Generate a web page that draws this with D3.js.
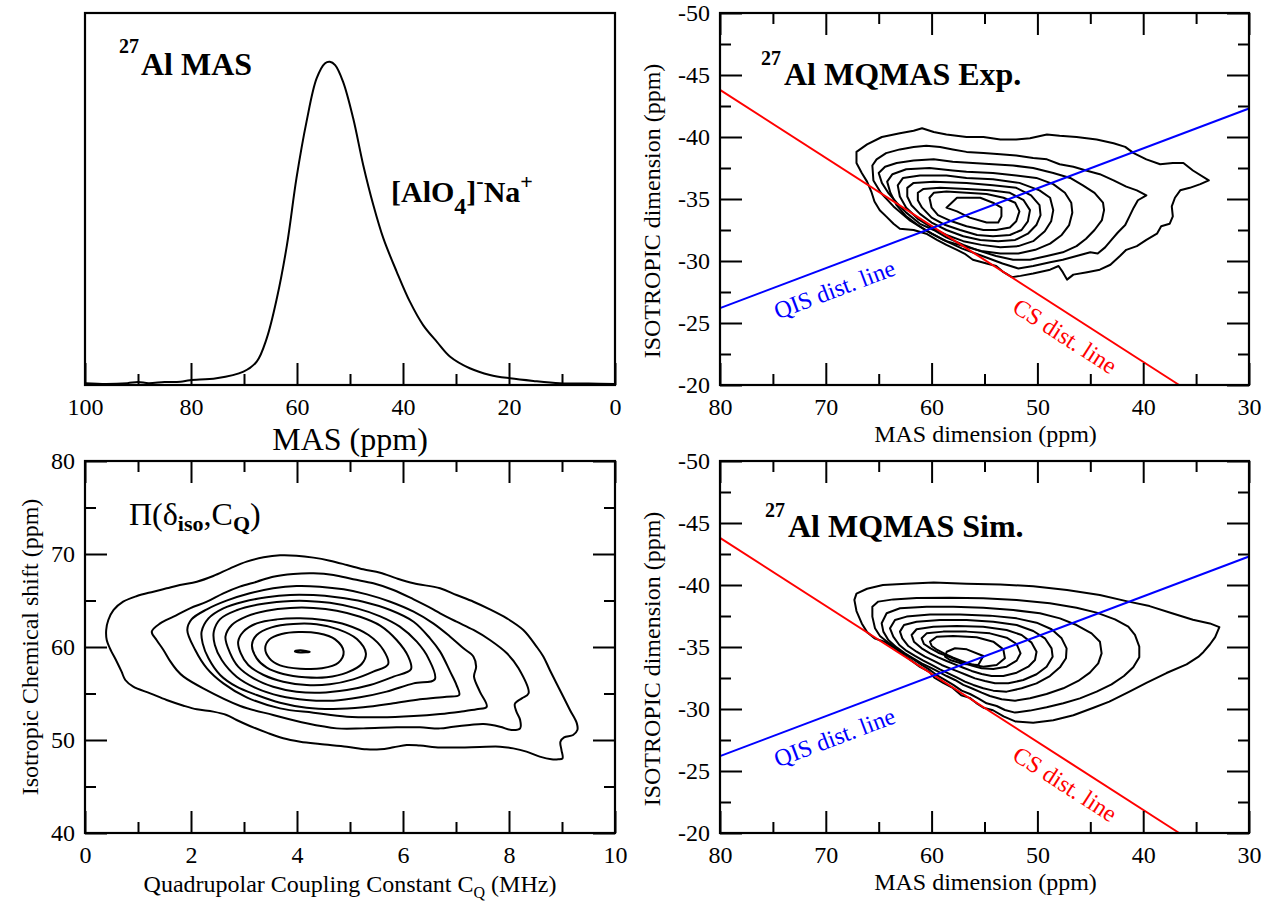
<!DOCTYPE html>
<html>
<head>
<meta charset="utf-8">
<script src="https://cdn.jsdelivr.net/npm/d3@7/dist/d3.min.js"></script>
<style>
body{margin:0;background:#fff;}
svg, svg text{font-family:"Liberation Serif","Times New Roman",Times,serif;}
</style>
</head>
<body>
<svg id="chart" width="1269" height="904" font-family="Liberation Serif, Times New Roman, serif"></svg>
<script>
// ---------- Panel 1: 27Al MAS spectrum ----------
const masPpm = [100,96,92,90,88,85,82,80.2,75.2,70.1,67.6,65.7,63.8,61.9,60.1,58.2,56.3,54.7,53.8,52.8,51.3,49.4,47.5,45.6,43.7,41.2,38.7,36.2,33.6,31.1,27.4,23.6,19.8,15.4,10.4,5,0];
const masIntensity = [0.005,0.003,0.005,0.008,0.005,0.008,0.009,0.013,0.018,0.036,0.063,0.126,0.233,0.376,0.556,0.708,0.824,0.865,0.869,0.860,0.815,0.717,0.591,0.484,0.394,0.305,0.224,0.161,0.116,0.076,0.045,0.027,0.018,0.011,0.005,0.004,0.003];
const p1MajorTicks = [100,80,60,40,20,0];
const p1MinorTicks = [90,70,50,30,10];

// ---------- MQMAS axes ----------
const mqXMajor = [80,70,60,50,40,30];
const mqXMinor = [75,65,55,45,35];
const mqYMajor = [-50,-45,-40,-35,-30,-25,-20];
const mqYMinor = [-47.5,-42.5,-37.5,-32.5,-27.5,-22.5];
const csLine = [[80,-43.8],[36.6,-20]];
const qisLine = [[80,-26.2],[30,-42.3]];
const qisLabelPos = [68.9,-27.1];
const csLabelPos = [47.8,-23.4];

// ---------- Panel 2: experimental MQMAS contours [MAS ppm, ISO ppm] ----------
const expC1 = [[67.1,-38.8],[66.1,-39.4],[64.7,-40.0],[63.0,-40.3],[61.7,-40.5],[60.9,-40.7],[59.8,-40.4],[58.6,-40.2],[56.7,-40.0],[55.1,-40.0],[53.5,-39.8],[52.0,-39.8],[50.7,-39.9],[49.1,-40.2],[47.9,-40.1],[46.3,-40.0],[44.4,-39.8],[42.8,-39.5],[41.7,-39.2],[40.9,-38.7],[39.7,-38.2],[38.4,-37.8],[37.2,-37.9],[36.2,-37.9],[35.3,-37.3],[33.8,-36.5],[34.6,-36.2],[35.6,-35.9],[36.5,-35.7],[37.0,-35.1],[37.3,-34.4],[37.2,-33.6],[37.5,-33.0],[38.3,-32.8],[38.7,-32.2],[39.7,-31.7],[40.6,-31.2],[41.6,-30.9],[42.2,-30.4],[43.1,-29.7],[44.1,-29.3],[45.3,-29.1],[46.6,-28.9],[47.2,-28.5],[47.6,-29.1],[48.0,-29.6],[48.8,-29.3],[50.4,-29.0],[51.6,-28.8],[52.4,-28.7],[53.2,-29.1],[53.9,-29.6],[54.8,-29.8],[56.1,-30.1],[56.9,-30.6],[57.6,-30.9],[58.6,-31.3],[59.5,-31.7],[60.5,-32.2],[61.7,-32.5],[63.0,-32.6],[63.6,-33.0],[64.3,-33.6],[64.9,-34.1],[65.4,-34.8],[65.7,-35.6],[66.1,-36.4],[66.6,-37.1],[67.1,-37.9]];
const expC2 = [[65.6,-37.7],[65.2,-38.2],[64.3,-38.7],[63.0,-39.0],[61.7,-39.2],[60.5,-39.3],[59.2,-39.2],[58.0,-39.0],[56.7,-38.8],[55.1,-38.7],[53.5,-38.6],[52.0,-38.5],[50.4,-38.3],[49.1,-38.2],[47.9,-37.8],[46.6,-37.6],[45.4,-37.3],[44.1,-37.0],[42.8,-36.5],[41.6,-36.0],[40.6,-35.7],[39.7,-35.3],[40.5,-34.9],[40.9,-34.3],[41.3,-33.6],[41.7,-32.9],[42.4,-32.3],[43.0,-31.7],[43.6,-31.1],[44.3,-30.6],[45.0,-30.7],[46.3,-30.4],[47.6,-30.1],[48.8,-29.9],[50.4,-29.6],[51.8,-29.4],[53.3,-29.8],[55.2,-30.4],[57.1,-31.0],[58.9,-31.7],[60.6,-32.5],[62.1,-33.3],[63.6,-34.4],[64.8,-35.5],[65.5,-36.5]];
const expC3 = [[65.0,-37.1],[64.4,-37.6],[63.3,-37.9],[61.7,-38.1],[59.8,-38.2],[58.0,-38.0],[56.1,-37.9],[54.2,-37.8],[52.3,-37.7],[50.4,-37.5],[48.5,-37.1],[46.9,-36.7],[45.7,-36.1],[44.6,-35.5],[43.8,-34.7],[43.7,-34.1],[43.9,-33.3],[44.6,-32.5],[45.4,-31.8],[46.3,-31.2],[47.6,-30.7],[49.1,-30.4],[50.7,-30.1],[52.3,-30.1],[53.9,-30.4],[55.4,-30.8],[57.0,-31.3],[58.6,-31.9],[59.8,-32.5],[61.1,-33.0],[62.4,-33.9],[63.3,-34.7],[64.1,-35.5],[64.7,-36.3]];
const expC4 = [[64.2,-36.4],[63.7,-37.0],[62.4,-37.4],[60.2,-37.5],[58.0,-37.3],[56.7,-37.2],[54.2,-37.1],[52.0,-36.9],[50.1,-36.7],[48.5,-36.2],[47.4,-35.5],[46.8,-34.7],[46.7,-33.9],[47.0,-32.9],[47.7,-32.1],[48.8,-31.4],[50.2,-30.9],[51.8,-30.6],[53.5,-30.6],[55.3,-30.8],[57.0,-31.2],[58.6,-31.6],[60.0,-32.2],[61.3,-32.9],[62.4,-33.6],[63.3,-34.5],[63.9,-35.5]];
const expC5 = [[63.2,-36.1],[62.7,-36.7],[61.1,-36.9],[58.6,-36.9],[56.7,-36.7],[54.2,-36.6],[51.7,-36.3],[49.8,-35.7],[48.8,-35.1],[48.5,-34.1],[48.7,-33.2],[49.3,-32.4],[50.4,-31.6],[51.8,-31.2],[53.5,-31.1],[55.3,-31.3],[57.0,-31.6],[58.6,-32.1],[60.0,-32.7],[61.3,-33.4],[62.4,-34.3],[63.0,-35.2]];
const expC6 = [[62.3,-35.9],[61.7,-36.3],[59.8,-36.4],[56.7,-36.3],[54.2,-36.1],[52.0,-35.9],[50.6,-35.3],[49.8,-34.5],[49.7,-33.7],[50.1,-32.9],[50.9,-32.2],[52.1,-31.7],[53.7,-31.6],[55.4,-31.7],[57.0,-32.0],[58.6,-32.5],[60.0,-33.1],[61.1,-33.8],[61.9,-34.5],[62.3,-35.2]];
const expC7 = [[61.3,-35.5],[60.8,-35.8],[59.2,-35.9],[56.7,-35.8],[54.5,-35.7],[52.6,-35.5],[51.3,-34.9],[50.7,-34.1],[50.9,-33.2],[51.5,-32.5],[52.6,-32.1],[54.2,-32.0],[55.7,-32.1],[57.3,-32.5],[58.7,-32.9],[60.0,-33.5],[60.9,-34.3],[61.3,-34.9]];
const expC8 = [[60.2,-35.1],[59.8,-35.5],[58.6,-35.6],[56.7,-35.5],[54.8,-35.4],[53.2,-35.1],[52.1,-34.7],[51.7,-34.0],[52.0,-33.2],[52.6,-32.7],[53.9,-32.5],[55.1,-32.5],[56.7,-32.8],[58.1,-33.2],[59.4,-33.7],[60.0,-34.3]];
const expC9 = [[58.6,-34.3],[57.6,-35.1],[55.4,-35.1],[54.2,-34.7],[53.4,-34.3],[53.4,-33.6],[53.7,-33.1],[54.8,-33.1],[56.4,-33.5],[57.6,-34.0]];

// ---------- Panel 4: simulated MQMAS contours ----------
const simC1 = [[67.3,-38.8],[67.1,-39.3],[66.1,-39.7],[64.6,-40.0],[62.4,-40.1],[59.8,-40.2],[56.7,-40.1],[53.5,-40.05],[50.4,-39.9],[47.2,-39.6],[44.1,-39.2],[41.6,-38.7],[39.4,-38.3],[37.2,-37.7],[35.3,-37.2],[33.7,-36.9],[32.8,-36.6],[33.2,-35.8],[33.7,-35.2],[34.3,-34.6],[34.8,-34.2],[35.9,-33.6],[37.8,-32.9],[39.7,-32.1],[41.3,-31.4],[43.2,-30.6],[44.7,-30.1],[46.6,-29.5],[48.5,-29.1],[50.4,-28.9],[52.1,-29.0],[53.2,-29.4],[54.2,-29.9],[55.1,-30.1],[55.8,-30.5],[56.4,-30.9],[57.2,-31.1],[58.0,-31.7],[58.9,-32.1],[59.7,-32.5],[60.2,-33.0],[61.1,-33.4],[61.9,-33.9],[62.7,-34.4],[63.5,-34.9],[64.4,-35.4],[65.4,-35.7],[66.1,-36.2],[66.6,-36.9],[67.1,-37.9]];
const simC2 = [[65.60,-38.25],[65.04,-38.66],[63.62,-38.84],[61.42,-38.95],[58.27,-38.98],[55.12,-38.93],[51.96,-38.79],[48.82,-38.52],[46.30,-38.17],[44.40,-37.77],[42.67,-37.23],[41.41,-36.64],[40.78,-35.97],[40.37,-35.03],[40.37,-34.17],[40.94,-33.36],[41.82,-32.66],[42.99,-31.99],[44.40,-31.40],[45.98,-30.86],[47.55,-30.46],[49.13,-30.14],[50.70,-29.87],[52.12,-29.71],[53.07,-29.92],[53.85,-30.24],[54.80,-30.46],[55.59,-30.86],[56.37,-31.21],[57.16,-31.48],[57.95,-31.94],[58.74,-32.34],[59.52,-32.74],[60.15,-33.15],[60.94,-33.55],[61.73,-34.01],[62.52,-34.44],[63.30,-34.89],[64.09,-35.35],[64.88,-35.89],[65.35,-36.51],[65.60,-37.45]];
const simC3 = [[64.72,-36.91],[64.25,-37.72],[62.99,-38.12],[60.47,-38.25],[57.95,-38.25],[55.12,-38.17],[52.28,-37.98],[49.76,-37.72],[47.87,-37.31],[46.30,-36.77],[44.88,-36.10],[44.09,-35.43],[43.93,-34.49],[44.25,-33.68],[45.04,-32.93],[46.14,-32.26],[47.55,-31.67],[49.13,-31.21],[50.70,-30.86],[52.12,-30.67],[53.38,-30.78],[54.49,-31.05],[55.27,-31.32],[56.22,-31.67],[57.00,-31.94],[57.79,-32.34],[58.58,-32.66],[59.37,-33.01],[60.15,-33.36],[60.94,-33.68],[61.73,-34.09],[62.52,-34.49],[63.30,-34.97],[64.09,-35.57],[64.56,-36.24]];
const simC4 = [[63.93,-36.51],[63.46,-37.18],[62.36,-37.45],[60.15,-37.63],[57.32,-37.63],[54.49,-37.53],[51.96,-37.31],[50.08,-36.96],[48.66,-36.43],[47.71,-35.70],[47.24,-34.89],[47.30,-34.09],[47.87,-33.36],[48.82,-32.66],[50.08,-32.07],[51.49,-31.67],[52.91,-31.40],[54.17,-31.48],[55.12,-31.67],[56.06,-31.94],[56.85,-32.21],[57.63,-32.55],[58.42,-32.88],[59.21,-33.20],[59.99,-33.55],[60.78,-33.90],[61.57,-34.28],[62.36,-34.68],[63.05,-35.16],[63.62,-35.83]];
const simC5 = [[62.99,-36.24],[62.61,-36.77],[61.42,-37.04],[59.21,-37.18],[56.69,-37.18],[54.17,-37.04],[51.96,-36.77],[50.39,-36.29],[49.29,-35.70],[48.66,-34.89],[48.56,-34.22],[49.13,-33.41],[50.08,-32.80],[51.33,-32.34],[52.75,-32.07],[54.01,-32.07],[54.96,-32.26],[55.90,-32.47],[56.69,-32.74],[57.48,-33.01],[58.27,-33.28],[59.05,-33.55],[59.84,-33.90],[60.63,-34.22],[61.42,-34.62],[62.20,-35.08],[62.77,-35.70]];
const simC6 = [[61.89,-35.97],[61.42,-36.43],[59.84,-36.64],[57.63,-36.69],[55.12,-36.64],[52.91,-36.37],[51.49,-35.97],[50.55,-35.35],[50.08,-34.62],[50.23,-33.95],[50.86,-33.41],[51.96,-32.93],[53.22,-32.66],[54.33,-32.66],[55.27,-32.82],[56.22,-33.07],[57.00,-33.33],[57.79,-33.60],[58.58,-33.87],[59.37,-34.17],[60.15,-34.49],[60.94,-34.89],[61.67,-35.43]];
const simC7 = [[60.94,-35.70],[60.47,-36.10],[58.90,-36.24],[56.69,-36.24],[54.49,-36.10],[52.91,-35.75],[51.96,-35.24],[51.59,-34.49],[51.96,-33.90],[52.91,-33.41],[54.17,-33.23],[55.27,-33.28],[56.22,-33.50],[57.00,-33.74],[57.79,-34.01],[58.58,-34.28],[59.37,-34.54],[60.09,-34.89],[60.72,-35.24]];
const simC8 = [[60.15,-35.43],[59.52,-35.83],[57.95,-35.89],[55.75,-35.78],[54.17,-35.43],[53.22,-34.81],[53.07,-34.09],[53.85,-33.55],[55.12,-33.41],[56.22,-33.60],[57.16,-33.87],[57.95,-34.14],[58.74,-34.44],[59.46,-34.76],[59.99,-35.08]];
const simC9 = [[58.73,-34.22],[58.57,-34.62],[57.79,-34.90],[56.68,-34.81],[55.11,-34.27],[55.59,-33.55],[57.00,-33.63],[58.26,-33.95]];

// ---------- Panel 3: Pi(delta_iso, CQ) contours [CQ MHz, iso ppm] ----------
const piXMajor = [0,2,4,6,8,10];
const piXMinor = [1,3,5,7,9];
const piYMajor = [40,50,60,70,80];
const piYMinor = [45,55,65,75];
const piC1 = [[0.40,61.83],[0.44,62.90],[0.54,63.98],[0.72,64.87],[0.98,65.48],[1.29,65.95],[1.54,66.31],[1.79,66.67],[2.11,67.02],[2.42,67.63],[2.74,68.46],[3.05,69.18],[3.37,69.64],[3.68,69.86],[3.99,69.82],[4.31,69.61],[4.62,69.28],[4.94,68.82],[5.25,68.35],[5.57,67.99],[5.88,67.38],[6.20,66.85],[6.70,66.31],[7.01,65.59],[7.33,64.87],[7.64,64.05],[7.96,63.08],[8.27,61.83],[8.52,60.04],[8.65,58.96],[8.77,57.53],[8.96,55.38],[9.15,53.23],[9.28,51.79],[9.29,51.07],[9.21,50.54],[9.04,50.29],[8.97,49.82],[8.99,48.92],[9.01,48.03],[8.93,47.92],[8.80,47.92],[8.58,48.21],[8.33,48.75],[8.08,49.10],[7.83,49.28],[7.45,49.25],[7.08,49.2],[6.70,49.2],[6.32,49.40],[6.07,49.46],[5.82,49.21],[5.57,49.00],[5.31,49.00],[4.94,49.28],[4.43,49.57],[4.06,49.82],[3.74,50.18],[3.43,50.79],[3.11,51.51],[2.86,52.15],[2.67,52.69],[2.42,53.05],[2.11,53.30],[1.86,53.69],[1.54,54.30],[1.23,55.02],[0.91,55.74],[0.76,56.45],[0.69,57.35],[0.60,58.42],[0.47,59.86],[0.41,60.75]];
const piC2 = [[1.26,61.65],[1.42,62.54],[1.67,63.26],[1.98,64.16],[2.30,64.87],[2.61,65.77],[2.92,66.49],[3.24,67.02],[3.55,67.56],[3.93,67.85],[4.31,67.92],[4.69,67.74],[5.06,67.28],[5.44,66.85],[5.82,66.13],[6.20,65.12],[6.57,64.05],[6.70,63.62],[7.01,62.72],[7.33,61.83],[7.64,60.75],[7.96,59.32],[8.18,57.71],[8.37,55.02],[8.24,54.48],[8.11,53.87],[8.14,53.05],[8.21,52.15],[8.21,51.25],[8.05,51.07],[7.83,51.43],[7.52,51.72],[7.26,51.61],[6.95,51.43],[6.70,51.25],[6.32,51.36],[5.88,51.36],[5.25,51.25],[4.75,51.25],[4.18,51.79],[3.55,52.69],[2.93,53.66],[2.23,55.55],[1.86,56.81],[1.73,57.53],[1.60,58.53],[1.48,59.68],[1.35,60.75]];
const piC3 = [[1.93,61.83],[2.01,62.97],[2.30,64.05],[2.67,64.98],[3.11,65.77],[3.55,66.31],[3.99,66.56],[4.43,66.49],[4.88,66.20],[5.32,65.66],[5.76,64.87],[6.20,63.80],[6.57,62.54],[6.89,61.11],[7.14,59.86],[7.33,58.96],[7.38,57.89],[7.34,56.81],[7.45,55.20],[7.58,53.58],[7.39,53.30],[7.08,53.05],[6.70,52.80],[6.20,52.58],[5.57,52.44],[4.94,52.51],[4.31,52.94],[3.68,53.40],[3.05,54.59],[2.61,56.09],[2.30,57.71],[2.08,59.68]];
const piC4 = [[2.20,61.65],[2.33,63.08],[2.61,64.16],[2.99,64.87],[3.43,65.35],[3.87,65.60],[4.31,65.58],[4.75,65.35],[5.25,64.87],[5.76,63.98],[6.20,62.72],[6.51,60.93],[6.70,59.50],[6.89,57.35],[7.01,55.91],[7.06,54.84],[6.82,54.66],[6.32,54.37],[5.82,53.94],[5.25,53.51],[4.69,53.33],[4.18,53.47],[3.68,54.01],[3.24,54.84],[2.86,55.73],[2.55,56.99],[2.33,58.78],[2.22,60.39]];
const piC5 = [[2.43,61.65],[2.55,63.0],[2.86,63.95],[3.30,64.6],[3.74,64.9],[4.18,64.95],[4.62,64.75],[5.13,64.15],[5.57,63.3],[5.94,62.19],[6.26,60.57],[6.48,58.78],[6.60,56.52],[6.20,56.09],[5.69,55.20],[5.19,54.59],[4.69,54.23],[4.18,54.30],[3.68,54.73],[3.24,55.55],[2.86,56.81],[2.58,58.60],[2.45,60.22]];
const piC6 = [[2.65,61.11],[2.77,62.37],[3.05,63.3],[3.43,63.9],[3.87,64.2],[4.31,64.2],[4.75,63.9],[5.19,63.25],[5.57,62.3],[5.88,60.75],[6.10,58.96],[6.15,57.60],[5.82,56.81],[5.38,55.91],[4.94,55.38],[4.43,55.09],[3.99,55.20],[3.55,55.73],[3.18,56.63],[2.89,57.89],[2.74,59.32]];
const piC7 = [[2.89,60.57],[2.99,61.65],[3.24,62.54],[3.62,62.97],[4.06,63.08],[4.50,62.90],[4.94,62.37],[5.35,61.29],[5.63,59.68],[5.72,58.17],[5.44,57.35],[5.06,56.52],[4.62,55.99],[4.18,55.91],[3.74,56.27],[3.37,56.99],[3.08,58.06],[2.94,59.32]];
const piC8 = [[3.15,60.22],[3.24,61.29],[3.52,62.11],[3.93,62.47],[4.37,62.44],[4.78,61.90],[5.13,60.86],[5.30,59.32],[5.22,58.17],[4.94,57.24],[4.56,56.74],[4.15,56.74],[3.74,57.10],[3.43,57.78],[3.24,58.78]];
const piC9 = [[3.40,59.86],[3.48,60.82],[3.71,61.40],[4.03,61.61],[4.40,61.47],[4.72,60.82],[4.88,59.50],[4.78,58.31],[4.47,57.71],[4.06,57.67],[3.68,58.03],[3.48,58.78]];
const piC10 = [[3.96,59.52],[4.06,59.64],[4.24,59.48],[4.06,59.42]];

// ---------- drawing ----------
const FONT = '"Liberation Serif","Times New Roman",Times,serif';
const svg = d3.select("#chart");
svg.append("rect").attr("width",1269).attr("height",904).attr("fill","#fff");

const P1 = {x0:85,x1:615,y0:13,y1:385};
const P2 = {x0:720,x1:1249,y0:13,y1:385};
const P3 = {x0:85,x1:615,y0:461,y1:833};
const P4 = {x0:720,x1:1249,y0:461,y1:833};

function addAxis(gen, vals, size, withLabels, tx, ty, pad) {
  const g = svg.append("g").attr("transform", `translate(${tx},${ty})`)
    .call(gen.tickValues(vals).tickSize(size).tickPadding(pad || 0)
      .tickFormat(withLabels ? (d => String(d)) : (() => "")));
  g.select(".domain").remove();
  g.attr("font-family", null).attr("font-size", null);
  g.selectAll(".tick line").attr("stroke", "#000").attr("stroke-width", 2);
  g.selectAll(".tick text").attr("fill", "#000").style("font-family", FONT).style("font-size", "24px");
  return g;
}
function frame(p) {
  svg.append("rect").attr("x", p.x0).attr("y", p.y0).attr("width", p.x1 - p.x0).attr("height", p.y1 - p.y0)
    .attr("fill", "none").attr("stroke", "#000").attr("stroke-width", 2.2);
}
function fullAxes(p, x, y, xMaj, xMin, yMaj, yMin) {
  addAxis(d3.axisBottom(x), xMaj, -22, true, 0, p.y1, 13);
  addAxis(d3.axisBottom(x), xMin, -11, false, 0, p.y1, 13);
  addAxis(d3.axisTop(x), xMaj, -22, false, 0, p.y0);
  addAxis(d3.axisTop(x), xMin, -11, false, 0, p.y0);
  addAxis(d3.axisLeft(y), yMaj, -22, true, p.x0, 0, 10);
  addAxis(d3.axisLeft(y), yMin, -11, false, p.x0, 0, 10);
  addAxis(d3.axisRight(y), yMaj, -22, false, p.x1, 0);
  addAxis(d3.axisRight(y), yMin, -11, false, p.x1, 0);
}
function contours(list, x, y, curve) {
  const ln = d3.line().x(d => x(d[0])).y(d => y(d[1])).curve(curve);
  svg.append("g").selectAll("path").data(list).join("path")
    .attr("d", ln).attr("fill", "none").attr("stroke", "#000")
    .attr("stroke-width", 2).attr("stroke-linejoin", "round");
}
function txt(x, y, size, weight, s, anchor) {
  return svg.append("text").attr("x", x).attr("y", y).attr("fill", "#000")
    .style("font-family", FONT)
    .style("font-size", size + "px").style("font-weight", weight)
    .attr("text-anchor", anchor || "start").text(s);
}

// Panel 1
const x1 = d3.scaleLinear().domain([100, 0]).range([P1.x0, P1.x1]);
const y1 = d3.scaleLinear().domain([0, 1]).range([P1.y1, P1.y0]);
svg.append("path").datum(masPpm.map((m, i) => [m, masIntensity[i]]))
  .attr("d", d3.line().x(d => x1(d[0])).y(d => y1(d[1])).curve(d3.curveCatmullRom.alpha(0.5)))
  .attr("fill", "none").attr("stroke", "#000").attr("stroke-width", 2);
addAxis(d3.axisBottom(x1), p1MajorTicks, -22, true, 0, P1.y1, 13);
addAxis(d3.axisBottom(x1), p1MinorTicks, -11, false, 0, P1.y1, 13);
frame(P1);
txt(350, 450, 32, "normal", "MAS (ppm)", "middle");
txt(119, 53, 20, "bold", "27");
txt(141, 75, 32, "bold", "Al MAS");
{
  const t = svg.append("text").attr("x", 391).attr("y", 202).attr("fill", "#000")
    .style("font-family", FONT).style("font-size", "30px").style("font-weight", "bold");
  t.append("tspan").text("[AlO");
  t.append("tspan").attr("dy", 12).style("font-size", "24px").text("4");
  t.append("tspan").attr("dy", -12).text("]");
  t.append("tspan").attr("dy", -14).style("font-size", "22px").text("-");
  t.append("tspan").attr("dy", 14).text("Na");
  t.append("tspan").attr("dy", -13).style("font-size", "22px").text("+");
}

// MQMAS panels
function mqPanel(p, cs, title) {
  const x = d3.scaleLinear().domain([80, 30]).range([p.x0, p.x1]);
  const y = d3.scaleLinear().domain([-50, -20]).range([p.y0, p.y1]);
  contours(cs, x, y, d3.curveLinearClosed);
  const ln = d3.line().x(d => x(d[0])).y(d => y(d[1]));
  svg.append("path").datum(csLine).attr("d", ln).attr("stroke", "#ff0000").attr("stroke-width", 2).attr("fill", "none");
  svg.append("path").datum(qisLine).attr("d", ln).attr("stroke", "#0000ff").attr("stroke-width", 2).attr("fill", "none");
  fullAxes(p, x, y, mqXMajor, mqXMinor, mqYMajor, mqYMinor);
  frame(p);
  const ang = l => Math.atan2(y(l[1][1]) - y(l[0][1]), x(l[1][0]) - x(l[0][0])) * 180 / Math.PI;
  svg.append("text").attr("transform", `translate(${x(qisLabelPos[0])},${y(qisLabelPos[1])}) rotate(${ang(qisLine)})`)
    .attr("text-anchor", "middle").attr("fill", "#0000ff").style("font-family", FONT).style("font-size", "24px").text("QIS dist. line");
  svg.append("text").attr("transform", `translate(${x(csLabelPos[0])},${y(csLabelPos[1])}) rotate(${ang(csLine)})`)
    .attr("text-anchor", "middle").attr("fill", "#ff0000").style("font-family", FONT).style("font-size", "24px").text("CS dist. line");
  txt((p.x0 + p.x1) / 2 + 1, p.y1 + 57, 24, "normal", "MAS dimension (ppm)", "middle");
  svg.append("text").attr("transform", `translate(660,${(p.y0 + p.y1) / 2 + 12}) rotate(-90)`)
    .attr("text-anchor", "middle").attr("fill", "#000").style("font-family", FONT).style("font-size", "24px").text("ISOTROPIC dimension (ppm)");
  txt(title.sx, p.y0 + title.sy, 20, "bold", "27");
  txt(title.sx + 23, p.y0 + title.sy + 20, 32, "bold", title.t);
}
mqPanel(P2, [expC1, expC2, expC3, expC4, expC5, expC6, expC7, expC8, expC9], {sx: 761, sy: 52, t: "Al MQMAS Exp."});
mqPanel(P4, [simC1, simC2, simC3, simC4, simC5, simC6, simC7, simC8, simC9], {sx: 765, sy: 56, t: "Al MQMAS Sim."});

// Panel 3
const x3 = d3.scaleLinear().domain([0, 10]).range([P3.x0, P3.x1]);
const y3 = d3.scaleLinear().domain([40, 80]).range([P3.y1, P3.y0]);
contours([piC1, piC2, piC3, piC4, piC5, piC6, piC7, piC8, piC9, piC10], x3, y3, d3.curveCatmullRomClosed.alpha(0.5));
fullAxes(P3, x3, y3, piXMajor, piXMinor, piYMajor, piYMinor);
frame(P3);
{
  const t = svg.append("text").attr("x", 129).attr("y", 525).attr("fill", "#000").style("font-family", FONT).style("font-size", "32px");
  t.append("tspan").text("\u03A0(\u03B4");
  t.append("tspan").attr("dy", 6).style("font-size", "22px").style("font-weight", "bold").text("iso");
  t.append("tspan").attr("dy", -6).text(",C");
  t.append("tspan").attr("dy", 6).style("font-size", "22px").style("font-weight", "bold").text("Q");
  t.append("tspan").attr("dy", -6).text(")");
}
{
  const t = svg.append("text").attr("x", 350).attr("y", 892).attr("text-anchor", "middle").attr("fill", "#000").style("font-family", FONT).style("font-size", "24px");
  t.append("tspan").text("Quadrupolar Coupling Constant C");
  t.append("tspan").attr("dy", 6).style("font-size", "16px").text("Q");
  t.append("tspan").attr("dy", -6).text(" (MHz)");
}
svg.append("text").attr("transform", "translate(38,647) rotate(-90)").attr("text-anchor", "middle")
  .attr("fill", "#000").style("font-family", FONT).style("font-size", "24px").text("Isotropic Chemical shift (ppm)");
</script>
</body>
</html>
